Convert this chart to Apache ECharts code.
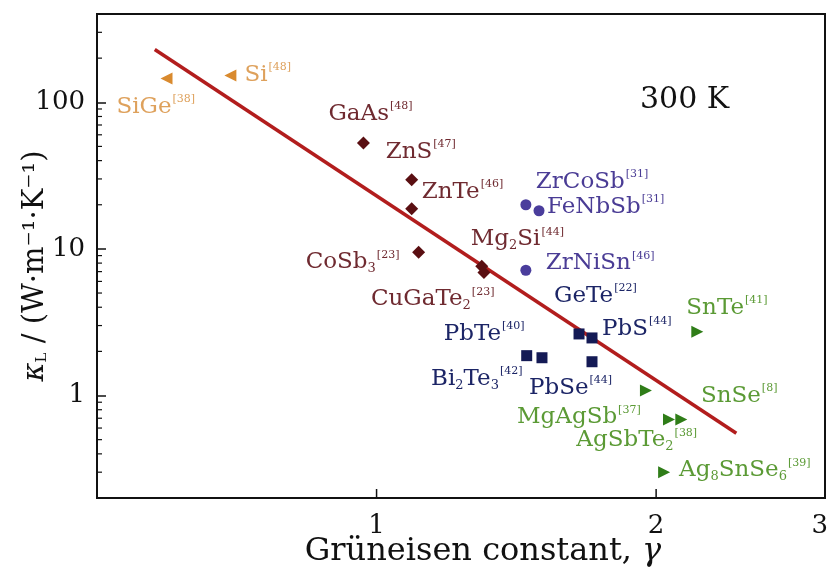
<!DOCTYPE html>
<html>
<head>
<meta charset="utf-8">
<script src="https://cdn.jsdelivr.net/npm/echarts@6/dist/echarts.min.js"></script>
<style>
  html, body { margin: 0; padding: 0; background: #fff; }
  #chart { width: 833px; height: 569px; }
</style>
</head>
<body>
<div id="chart"></div>
<script>
// Lattice thermal conductivity (300 K) versus Grüneisen constant, log–log.

// ---- data -------------------------------------------------------------
// Group IV
const g4Names = ['SiGe', 'Si'];
const g4Refs = ['38', '48'];
const g4Gamma = [0.594, 0.696];
const g4Kappa = [145, 152];

// Zinc-blende / diamond-like compounds
const zbNames = ['GaAs', 'ZnS', 'ZnTe', 'CoSb3', 'Mg2Si', 'CuGaTe2'];
const zbRefs = ['48', '47', '46', '23', '44', '23'];
const zbGamma = [0.968, 1.091, 1.091, 1.11, 1.298, 1.305];
const zbKappa = [52.7, 29.6, 18.8, 9.5, 7.6, 6.9];

// Half-Heusler compounds
const hhNames = ['ZrCoSb', 'FeNbSb', 'ZrNiSn'];
const hhRefs = ['31', '31', '46'];
const hhGamma = [1.448, 1.496, 1.448];
const hhKappa = [20.0, 18.2, 7.15];

// Lead / germanium chalcogenides and Bi2Te3
const chNames = ['GeTe', 'PbS', 'PbTe', 'Bi2Te3', 'PbSe'];
const chRefs = ['22', '44', '40', '42', '44'];
const chGamma = [1.652, 1.706, 1.451, 1.507, 1.706];
const chKappa = [2.63, 2.47, 1.87, 1.81, 1.70];

// Strongly anharmonic compounds
const ahNames = ['SnTe', 'SnSe', 'MgAgSb', 'AgSbTe2', 'Ag8SnSe6'];
const ahRefs = ['41', '8', '37', '38', '39'];
const ahGamma = [2.215, 1.95, 2.065, 2.129, 2.04];
const ahKappa = [2.72, 1.08, 0.687, 0.687, 0.30];

// Trend line end points
const fitGamma = [0.577, 2.44];
const fitKappa = [229, 0.553];

// Axes
const xRange = [0.5, 3.04];
const yRange = [0.2, 400];
const xTickValues = [1, 2];
const xLabelValues = [1, 2, 3];
const xLabelTexts = ['1', '2', '3'];
const yMinorValues = [0.3, 0.4, 0.5, 0.6, 0.7, 0.8, 0.9,
                      2, 3, 4, 5, 6, 7, 8, 9,
                      20, 30, 40, 50, 60, 70, 80, 90,
                      200, 300];

// ---- label placement (pixel offsets from marker centre) ---------------
const labelOffset = {
  'SiGe': [-50, 28], 'Si': [14, -1],
  'GaAs': [-35, -29], 'ZnS': [-26, -28], 'ZnTe': [10, -17],
  'CoSb3': [-113, 10], 'Mg2Si': [-11, -27], 'CuGaTe2': [-113, 27],
  'ZrCoSb': [10, -23], 'FeNbSb': [8, -4], 'ZrNiSn': [20, -7],
  'GeTe': [-25, -38], 'PbS': [10, -9], 'PbTe': [-83, -22],
  'Bi2Te3': [-111, 21], 'PbSe': [-63, 26],
  'SnTe': [-11, -24], 'SnSe': [55, 5], 'MgAgSb': [-152, -2],
  'AgSbTe2': [-105, 21], 'Ag8SnSe6': [15, -2]
};

const SERIF = '"DejaVu Serif", "Liberation Serif", serif';

function richFor(color) {
  return {
    m: { fontSize: 23, fontFamily: SERIF, color: color, lineHeight: 26 },
    b: { fontSize: 13, fontFamily: SERIF, color: color, verticalAlign: 'bottom', lineHeight: 26, padding: [8, 0, 0, 0] },
    p: { fontSize: 11, fontFamily: SERIF, color: color, verticalAlign: 'top', lineHeight: 26, padding: [0, 0, 10, 1] }
  };
}

function formulaText(name, ref) {
  const body = name.replace(/(\d+)/g, '}{b|$1}{m|');
  return '{m|' + body + '}{p|[' + ref + ']}';
}

function makeItems(names, refs, gammas, kappas) {
  return names.map((n, i) => ({
    name: n,
    value: [gammas[i], kappas[i]],
    ref: refs[i],
    label: { offset: labelOffset[n] }
  }));
}

function scatterGroup(names, refs, gammas, kappas, symbol, size, rotate, markColor, textColor) {
  return {
    type: 'scatter',
    symbol: symbol,
    symbolSize: size,
    symbolRotate: rotate,
    itemStyle: { color: markColor, opacity: 1 },
    data: makeItems(names, refs, gammas, kappas),
    z: 5,
    label: {
      show: true,
      position: 'inside',
      align: 'left',
      verticalAlign: 'middle',
      formatter: p => formulaText(p.name, p.data.ref),
      rich: richFor(textColor)
    },
    emphasis: { disabled: true }
  };
}

const chart = echarts.init(document.getElementById('chart'), null, { renderer: 'canvas' });

chart.setOption({
  animation: false,
  backgroundColor: '#ffffff',
  grid: {
    left: 97, right: 8, top: 14, bottom: 71,
    containLabel: false,
    outerBoundsMode: 'none',
    show: true, borderColor: '#111', borderWidth: 2, backgroundColor: 'transparent'
  },
  xAxis: {
    type: 'log', logBase: 10, min: xRange[0], max: xRange[1],
    axisLine: { show: true, lineStyle: { color: '#111', width: 2 } },
    axisTick: { show: false },
    axisLabel: { show: false },
    splitLine: { show: false },
    name: '{a|Grüneisen constant, }{g|γ}',
    nameLocation: 'middle',
    nameGap: 38,
    nameMoveOverlap: false,
    nameTextStyle: {
      padding: [0, 0, 0, 44],
      rich: {
        a: { fontFamily: SERIF, fontSize: 32, color: '#111' },
        g: { fontFamily: SERIF, fontSize: 32, color: '#111', fontStyle: 'italic' }
      }
    }
  },
  yAxis: {
    type: 'log', logBase: 10, min: yRange[0], max: yRange[1],
    axisLine: { show: true, lineStyle: { color: '#111', width: 2 } },
    axisTick: { show: true, inside: true, length: 9, lineStyle: { color: '#111', width: 1.5 } },
    axisLabel: {
      show: true, showMinLabel: false, showMaxLabel: false,
      fontFamily: SERIF, fontSize: 26, color: '#111', margin: 12,
      formatter: v => String(Math.round(v))
    },
    splitLine: { show: false },
    name: '{k|κ}{s|L}{t| / (W·m⁻¹·K⁻¹)}',
    nameLocation: 'middle',
    nameRotate: 90,
    nameGap: 47,
    nameMoveOverlap: false,
    nameTextStyle: {
      padding: [0, 20, 0, 0],
      rich: {
        k: { fontFamily: SERIF, fontSize: 29, color: '#111', fontStyle: 'italic' },
        s: { fontFamily: SERIF, fontSize: 15, color: '#111', verticalAlign: 'bottom', padding: [10, 0, 0, 0] },
        t: { fontFamily: SERIF, fontSize: 29, color: '#111' }
      }
    }
  },
  graphic: [{
    type: 'text', left: 640, top: 85, z: 10,
    style: { text: '300 K', fontFamily: SERIF, fontSize: 30, fill: '#111' }
  }],
  series: [
    {
      type: 'line',
      data: fitGamma.map((g, i) => [g, fitKappa[i]]),
      symbol: 'none',
      lineStyle: { color: '#b21d1d', width: 3.5 },
      z: 3,
      emphasis: { disabled: true }
    },
    scatterGroup(g4Names, g4Refs, g4Gamma, g4Kappa, 'triangle', 12, 90, '#d98a2e', '#dea15c'),
    scatterGroup(zbNames, zbRefs, zbGamma, zbKappa, 'diamond', 13, 0, '#5a0f12', '#6f2a30'),
    scatterGroup(hhNames, hhRefs, hhGamma, hhKappa, 'circle', 11, 0, '#4a3d9c', '#4a3c95'),
    scatterGroup(chNames, chRefs, chGamma, chKappa, 'rect', 11, 0, '#141a55', '#1c2566'),
    scatterGroup(ahNames, ahRefs, ahGamma, ahKappa, 'triangle', 12, -90, '#2f7d18', '#5b9a35'),
    {
      // x-axis ticks (inside) and tick labels
      type: 'custom',
      coordinateSystem: 'cartesian2d',
      data: xLabelValues.map((v, i) => [v, yRange[0], i]),
      renderItem: (params, api) => {
        const v = api.value(0);
        const idx = api.value(2);
        const p = api.coord([v, yRange[0]]);
        const children = [{
          type: 'text',
          style: {
            text: xLabelTexts[idx], x: p[0], y: p[1] + 15,
            align: 'center', verticalAlign: 'top',
            fontFamily: SERIF, fontSize: 26, fill: '#111'
          }
        }];
        if (xTickValues.indexOf(v) >= 0) {
          children.push({
            type: 'line',
            shape: { x1: p[0], y1: p[1], x2: p[0], y2: p[1] - 9 },
            style: { stroke: '#111', lineWidth: 1.5 }
          });
        }
        return { type: 'group', children: children };
      },
      clip: false,
      silent: true,
      z: 6
    },
    {
      // y-axis minor ticks (inside)
      type: 'custom',
      coordinateSystem: 'cartesian2d',
      data: yMinorValues.map(v => [xRange[0], v]),
      renderItem: (params, api) => {
        const p = api.coord([xRange[0], api.value(1)]);
        return {
          type: 'line',
          shape: { x1: p[0], y1: p[1], x2: p[0] + 5, y2: p[1] },
          style: { stroke: '#111', lineWidth: 1.2 }
        };
      },
      clip: false,
      silent: true,
      z: 6
    }
  ]
});
</script>
</body>
</html>
